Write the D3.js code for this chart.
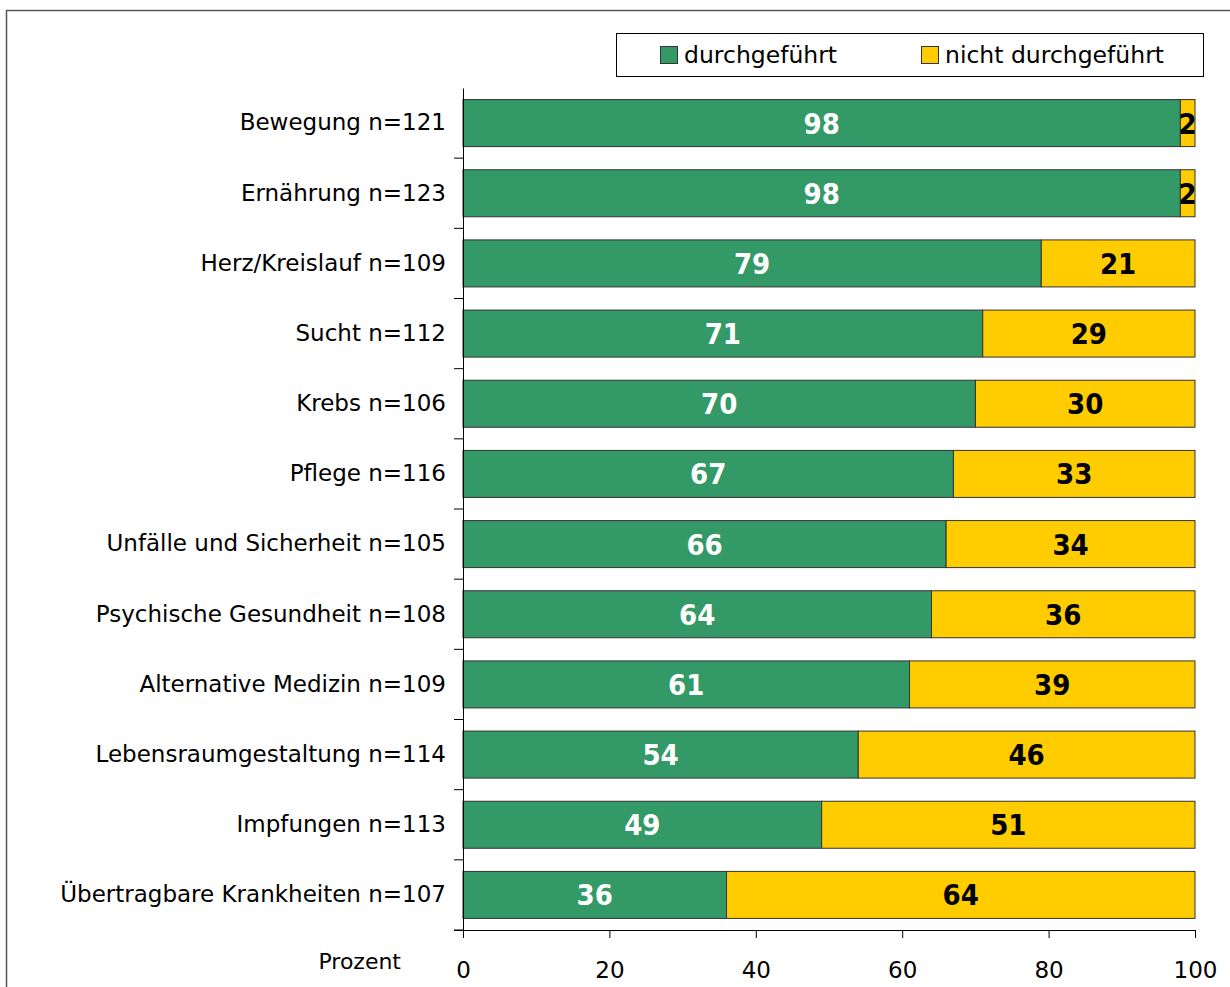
<!DOCTYPE html>
<html>
<head>
<meta charset="utf-8">
<script src="https://cdn.jsdelivr.net/npm/d3@7"></script>
<style>
  body { margin: 0; background: #fff; }
  svg { display: block; font-family: "DejaVu Sans", sans-serif; }
</style>
</head>
<body>
<svg id="chart" width="1230" height="987"></svg>
<script>
const categories = [
  "Bewegung n=121", "Ernährung n=123", "Herz/Kreislauf n=109", "Sucht n=112",
  "Krebs n=106", "Pflege n=116", "Unfälle und Sicherheit n=105",
  "Psychische Gesundheit n=108", "Alternative Medizin n=109",
  "Lebensraumgestaltung n=114", "Impfungen n=113", "Übertragbare Krankheiten n=107"
];
const done = [98, 98, 79, 71, 70, 67, 66, 64, 61, 54, 49, 36];
const notDone = [2, 2, 21, 29, 30, 33, 34, 36, 39, 46, 51, 64];
const seriesNames = ["durchgeführt", "nicht durchgeführt"];
const colors = ["#339966", "#FFCC00"];
const xTicks = [0, 20, 40, 60, 80, 100];

const svg = d3.select("#chart");
const labelFont = "'DejaVu Sans', sans-serif";
const valueFont = "'DejaVu Sans Condensed', sans-serif";

// outer frame
svg.append("rect")
  .attr("x", 6.5).attr("y", 10.5)
  .attr("width", 1300).attr("height", 1100)
  .attr("fill", "none").attr("stroke", "#555").attr("stroke-width", 1.5);

const plotLeft = 463, plotRight = 1195, plotTop = 88, plotBottom = 930;

const x = d3.scaleLinear().domain([0, 100]).range([plotLeft, plotRight]);
const y = d3.scaleBand().domain(categories).range([plotTop, plotBottom]).paddingInner(0.33).paddingOuter(0.165);

const rows = categories.map((c, i) => ({ cat: c, vals: [done[i], notDone[i]] }));
const stack = d3.stack().keys([0, 1]).value((d, k) => d.vals[k])(rows);

stack.forEach((layer, k) => {
  const g = svg.append("g");
  g.selectAll("rect").data(layer).enter().append("rect")
    .attr("x", d => x(d[0]))
    .attr("y", d => y(d.data.cat))
    .attr("width", d => x(d[1]) - x(d[0]))
    .attr("height", y.bandwidth())
    .attr("fill", colors[k])
    .attr("stroke", "#333").attr("stroke-width", 1);
  g.selectAll("text").data(layer).enter().append("text")
    .attr("x", d => (x(d[0]) + x(d[1])) / 2)
    .attr("y", d => y(d.data.cat) + y.bandwidth() / 2)
    .attr("dy", "0.36em")
    .attr("text-anchor", "middle")
    .attr("font-family", valueFont)
    .attr("font-size", 29).attr("font-weight", "bold")
    .attr("fill", k === 0 ? "#fff" : "#000")
    .text(d => d.data.vals[k]);
});

// y axis
const yAxis = svg.append("g").attr("transform", `translate(${plotLeft},0)`)
  .call(d3.axisLeft(y).tickSize(0).tickPadding(17));
yAxis.select(".domain").attr("stroke", "#000");
yAxis.selectAll("text").attr("font-size", 23).attr("fill", "#000")
  .attr("font-family", labelFont);
// tick marks between categories
const bounds = categories.map((c, i) => plotTop + i * y.step()).concat([plotBottom]);
svg.append("g").selectAll("line").data(bounds.slice(1)).enter().append("line")
  .attr("x1", plotLeft - 9).attr("x2", plotLeft)
  .attr("y1", d => d).attr("y2", d => d)
  .attr("stroke", "#000");

// x axis
const xAxis = svg.append("g").attr("transform", `translate(0,${plotBottom})`)
  .call(d3.axisBottom(x).tickValues(xTicks).tickSize(8).tickSizeOuter(0).tickPadding(24));
xAxis.select(".domain").attr("stroke", "#000").attr("d", `M${plotLeft - 9},0.5H${plotRight}`);
xAxis.selectAll("text").attr("font-size", 23).attr("fill", "#000")
  .attr("font-family", labelFont);

svg.append("text").attr("x", 401).attr("y", 969)
  .attr("text-anchor", "end").attr("font-size", 22).text("Prozent");

// legend
const lg = svg.append("g");
lg.append("rect").attr("x", 616.5).attr("y", 33.5).attr("width", 587).attr("height", 43)
  .attr("fill", "#fff").attr("stroke", "#000");
const legX = [660, 921];
seriesNames.forEach((n, k) => {
  lg.append("rect").attr("x", legX[k] + 0.5).attr("y", 46.5).attr("width", 17).attr("height", 17)
    .attr("fill", colors[k]).attr("stroke", "#333");
  lg.append("text").attr("x", legX[k] + 24).attr("y", 55).attr("dy", "0.36em")
    .attr("font-size", 23.5).text(n);
});
</script>
</body>
</html>
